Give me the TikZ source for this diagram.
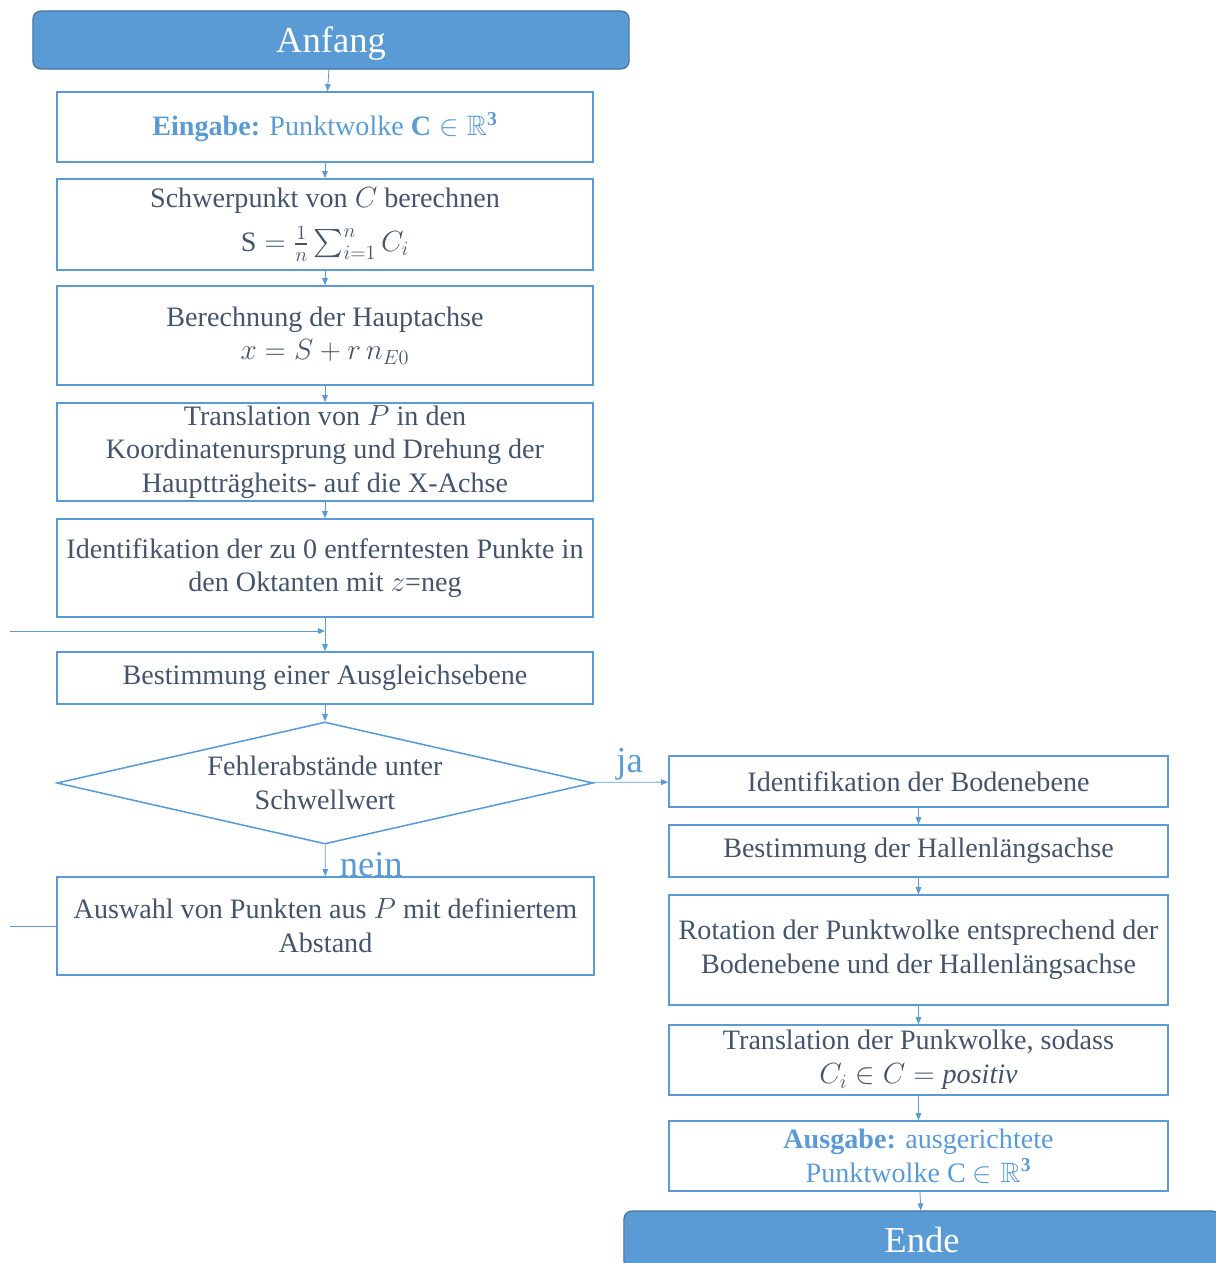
\documentclass[tikz,border=0pt]{standalone}
\usepackage{amsmath,amssymb}
\usepackage{fontspec}
\setmainfont{Liberation Serif}
\usetikzlibrary{arrows.meta,shapes.geometric}

\definecolor{flowblue}{HTML}{5B9BD5}
\definecolor{flowedge}{HTML}{41719C}
\definecolor{flowtext}{HTML}{44546A}

\tikzset{
  procbox/.style={draw=flowblue,line width=1.1pt,minimum width=13.4cm,inner sep=0pt,
    align=center,text=flowtext,font=\fontsize{20}{24}\selectfont},
  rbox/.style={procbox,minimum width=12.475cm},
  terminal/.style={draw=flowedge,fill=flowblue,rounded corners=0.2cm,line width=0.8pt,
    minimum width=14.9cm,minimum height=1.45cm,text depth=0pt,text=white,
    font=\fontsize{26}{30}\selectfont},
  decision/.style={procbox,shape=diamond,aspect=4.39,minimum width=13.4cm,minimum height=3.05cm},
  flow/.style={draw=flowblue,line width=0.6pt,-{Triangle[length=5pt,width=4pt]}},
  answer/.style={text=flowblue,font=\fontsize{26}{30}\selectfont,inner sep=0pt}
}

\begin{document}
\begin{tikzpicture}[x=0.025cm,y=-0.025cm]
\useasboundingbox (0,0) rectangle (1216,1263);
\clip (0,0) rectangle (1216,1263);
% ---------- left column ----------
\node[terminal] (anfang) at (331,40) {Anfang};
\node[procbox,minimum height=1.75cm,text=flowblue] (eingabe) at (325,127)
  {\textbf{Eingabe:} Punktwolke $\mathbf{C}\in\mathbb{R}^{\mathbf{3}}$};
\node[procbox,minimum height=2.275cm] (schwer) at (325,224.5)
  {Schwerpunkt von $C$ berechnen\\[7pt] $\mathrm{S}=\frac{1}{n}\sum_{i=1}^{n}C_i$};
\node[procbox,minimum height=2.475cm] (haupt) at (325,335.5)
  {Berechnung der Hauptachse\\ $x=S+r\,n_{E0}$};
\node[procbox,minimum height=2.45cm] (transl) at (325,452)
  {Translation von $P$ in den\\ Koordinatenursprung und Drehung der\\ Haupttr\"agheits- auf die X-Achse};
\node[procbox,minimum height=2.45cm] (ident) at (325,568)
  {Identifikation der zu 0 entferntesten Punkte in\\ den Oktanten mit $z$=neg};
\node[procbox,minimum height=1.3cm] (ausgl) at (325,678) {Bestimmung einer Ausgleichsebene};
\node[decision] (fehler) at (325,783) {Fehlerabst\"ande unter\\ Schwellwert};
\node[procbox,minimum width=13.425cm,minimum height=2.45cm] (auswahl) at (325.5,926)
  {Auswahl von Punkten aus $P$ mit definiertem\\ Abstand};
% ---------- right column ----------
\node[rbox,minimum height=1.275cm] (boden) at (918.5,781.5) {Identifikation der Bodenebene};
\node[rbox,minimum height=1.3cm] (halle) at (918.5,851) {Bestimmung der Hallenl\"angsachse};
\node[rbox,minimum height=2.75cm] (rotat) at (918.5,950)
  {Rotation der Punktwolke entsprechend der\\ Bodenebene und der Hallenl\"angsachse};
\node[rbox,minimum height=1.75cm] (punkw) at (918.5,1060)
  {Translation der Punkwolke, sodass\\ $C_i\in C=\mathit{positiv}$};
\node[rbox,minimum height=1.75cm,text=flowblue] (ausgabe) at (918.5,1156)
  {\textbf{Ausgabe:} ausgerichtete\\ Punktwolke C $\in\mathbb{R}^{\mathbf{3}}$};
\node[terminal] (ende) at (922,1240) {Ende};
% ---------- connectors ----------
\draw[flow] (anfang) -- (eingabe);
\draw[flow] (eingabe) -- (schwer);
\draw[flow] (schwer) -- (haupt);
\draw[flow] (haupt) -- (transl);
\draw[flow] (transl) -- (ident);
\draw[flow] (ident) -- (ausgl);
\draw[flow] (ausgl) -- (fehler);
\draw[flow] (fehler) -- node[answer,anchor=west,xshift=10pt,yshift=-3pt] {nein} (auswahl);
\draw[flow] (fehler) -- node[answer,anchor=south,yshift=1pt] {ja} (boden);
\draw[flow] (boden) -- (halle);
\draw[flow] (halle) -- (rotat);
\draw[flow] (rotat) -- (punkw);
\draw[flow] (punkw) -- (ausgabe);
\draw[flow] (ausgabe) -- (ende);
% loop back from the selection step
\coordinate (loopin) at (10,631);
\coordinate (loopout) at (10,926);
\draw[flow] (loopin) -- (loopin -| ident.south);
\draw[draw=flowblue,line width=0.6pt] (loopout) -- (auswahl.west);
\end{tikzpicture}
\end{document}
